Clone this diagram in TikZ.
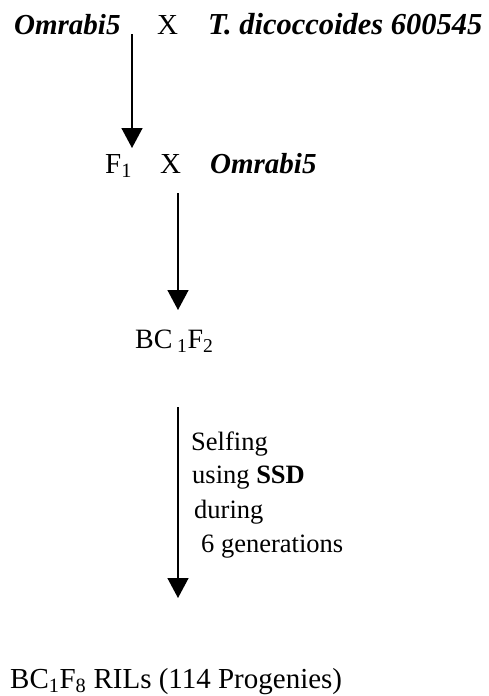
\documentclass[tikz,border=0pt]{standalone}
\usepackage{fontspec}
\setmainfont{Liberation Serif}
\usetikzlibrary{arrows.meta}
\begin{document}
\begin{tikzpicture}[x=1pt,y=-1pt,
  lbl/.style={anchor=base west,inner sep=0pt,font=\fontsize{29}{34}\selectfont},
  note/.style={anchor=base west,inner sep=0pt,font=\fontsize{26.5}{31}\selectfont},
  arr/.style={line width=1.5pt,-{Triangle[width=21pt,length=20pt]}}]
\useasboundingbox (0,0) rectangle (489,696);
\node[lbl] (p1) at (14,34) {\textbf{\textit{Omrabi5}}};
\node[lbl] (x1) at (157,34) {X};
\node[lbl,font=\fontsize{30.5}{34}\selectfont] (p2) at (208,34) {\textbf{\textit{T. dicoccoides 600545}}};
\node[lbl] (f1) at (105,173) {F\textsubscript{1}};
\node[lbl] (x2) at (160,173) {X};
\node[lbl] (p3) at (210,173) {\textbf{\textit{Omrabi5}}};
\node[lbl,font=\fontsize{28}{34}\selectfont] (bc) at (135,348) {BC\,\textsubscript{1}F\textsubscript{2}};
\node[note] (s1) at (191,450) {Selfing};
\node[note] (s2) at (192,483) {using \textbf{SSD}};
\node[note] (s3) at (194,518) {during};
\node[note] (s4) at (201,552) {6 generations};
\node[lbl] (rils) at (10,688) {BC\textsubscript{1}F\textsubscript{8} RILs (114 Progenies)};
\coordinate (a1s) at (132,34);
\coordinate (a1e) at (132,148);
\coordinate (a2s) at (178,193);
\coordinate (a2e) at (178,310);
\coordinate (a3s) at (178,407);
\coordinate (a3e) at (178,598);
\draw[arr] (a1s) -- (a1e);
\draw[arr] (a2s) -- (a2e);
\draw[arr] (a3s) -- (a3e);
\end{tikzpicture}
\end{document}
